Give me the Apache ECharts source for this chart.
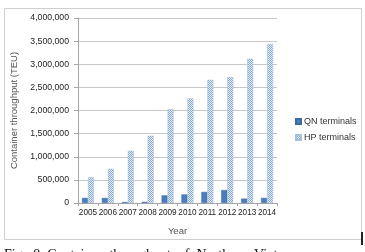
<!DOCTYPE html>
<html>
<head>
<meta charset="utf-8">
<script src="https://cdn.jsdelivr.net/npm/echarts@6/dist/echarts.min.js"></script>
<style>
  html, body { margin: 0; padding: 0; background: #fff; }
  #chart { width: 365px; height: 252px; }
</style>
</head>
<body>
<div id="chart"></div>
<script>
  var years = ['2005', '2006', '2007', '2008', '2009', '2010', '2011', '2012', '2013', '2014'];
  var qnTerminals = [110000, 110000, 20000, 25000, 165000, 185000, 240000, 280000, 95000, 110000];
  var hpTerminals = [560000, 740000, 1130000, 1455000, 2030000, 2260000, 2665000, 2725000, 3120000, 3440000];
  var yTicks = { min: 0, max: 4000000, interval: 500000 };

  // dotted fill like the excel pattern
  var pat = document.createElement('canvas');
  pat.width = 2;
  pat.height = 2;
  var ctx = pat.getContext('2d');
  ctx.fillStyle = '#e4ecf6';
  ctx.fillRect(0, 0, 2, 2);
  ctx.fillStyle = '#86a9d4';
  ctx.fillRect(0, 0, 1, 1);
  ctx.fillRect(1, 1, 1, 1);

  var font = 'Liberation Sans';
  var chart = echarts.init(document.getElementById('chart'));
  chart.setOption({
    animation: false,
    textStyle: { fontFamily: font },
    grid: { left: 78, right: 88, top: 18, bottom: 49 },
    legend: {
      orient: 'vertical',
      left: 290,
      top: 112,
      itemWidth: 5,
      itemHeight: 5,
      itemGap: 7,
      icon: 'rect',
      textStyle: { fontSize: 9, color: '#333', padding: [0, 0, 0, -2] },
      data: ['QN terminals', 'HP terminals']
    },
    xAxis: {
      type: 'category',
      data: years,
      name: 'Year',
      nameLocation: 'middle',
      nameGap: 23,
      nameTextStyle: { fontSize: 9.5, color: '#555' },
      axisLine: { lineStyle: { color: '#a6a6a6' } },
      axisTick: { show: true, length: 3, lineStyle: { color: '#a6a6a6' } },
      axisLabel: { fontSize: 8.2, color: '#222', margin: 6, interval: 0 }
    },
    yAxis: {
      type: 'value',
      min: yTicks.min,
      max: yTicks.max,
      interval: yTicks.interval,
      name: 'Container throughput (TEU)',
      nameLocation: 'middle',
      nameGap: 51,
      nameTextStyle: { fontSize: 9.5, color: '#555' },
      axisLine: { show: true, lineStyle: { color: '#a6a6a6' } },
      axisTick: { show: true, length: 4, lineStyle: { color: '#a6a6a6' } },
      splitLine: { lineStyle: { color: '#c8c8c8' } },
      axisLabel: {
        fontSize: 8.7,
        color: '#222',
        margin: 9,
        formatter: function (v) { return v.toLocaleString('en-US'); }
      }
    },
    series: [
      {
        name: 'QN terminals',
        type: 'bar',
        data: qnTerminals,
        barWidth: 6,
        barGap: '0%',
        itemStyle: { color: '#4a7dbb', borderColor: '#3c6aa3', borderWidth: 0.5 }
      },
      {
        name: 'HP terminals',
        type: 'bar',
        data: hpTerminals,
        barWidth: 6,
        itemStyle: { color: { image: pat, repeat: 'repeat' }, borderColor: '#a9c0dd', borderWidth: 0.5 }
      }
    ],
    graphic: [
      {
        type: 'rect',
        shape: { x: 4.5, y: 8.5, width: 357, height: 231 },
        style: { fill: 'none', stroke: '#cfcfcf', lineWidth: 1 },
        silent: true
      },
      {
        type: 'line',
        shape: { x1: 362, y1: 232, x2: 362, y2: 245 },
        style: { stroke: '#222', lineWidth: 2 }
      },
      {
        type: 'text',
        x: 4,
        y: 248,
        style: {
          text: 'Fig.  8  Container  throughput  of  Northern  Vietnam',
          font: '14px "Liberation Serif"',
          fill: '#111',
          verticalAlign: 'top'
        }
      }
    ]
  });
</script>
</body>
</html>
